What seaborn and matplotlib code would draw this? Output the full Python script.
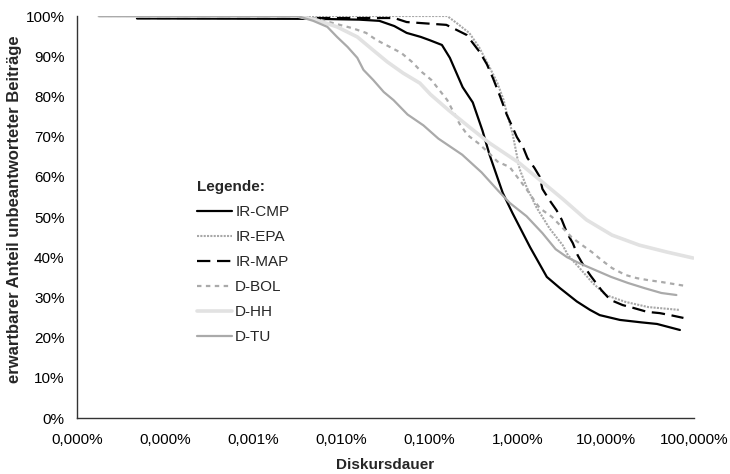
import matplotlib
matplotlib.use('Agg')
import matplotlib.pyplot as plt
from matplotlib.ticker import FuncFormatter, FixedLocator, NullLocator, PercentFormatter
import seaborn as sns
import pandas as pd
import numpy as np

# Diskursdauer als log10 des Prozentwerts, Anteil in %
cmp_x = [-4.32, -2.3, -1.8, -1.57, -1.4, -1.26, -1.1, -1.0, -0.86, -0.77, -0.625, -0.51, -0.4, -0.32,
         -0.17, -0.06, 0.14, 0.33, 0.48, 0.67, 0.82, 0.93, 1.16, 1.4, 1.58, 1.84]
cmp_y = [99.4, 99.3, 99.1, 98.8, 97.5, 95.8, 94.8, 94.0, 92.8, 89.6, 82.3, 78.5, 71.5, 65.5,
         56.0, 51.0, 42.5, 35.1, 32.3, 29.0, 26.9, 25.6, 24.4, 23.8, 23.4, 21.9]

epa_x = [-4.3, -0.8, -0.69, -0.55, -0.44, -0.32, -0.23, -0.16, -0.125, -0.06, 0.02, 0.10, 0.21,
         0.36, 0.51, 0.57, 0.69, 0.85, 1.0, 1.22, 1.48, 1.83]
epa_y = [100, 100, 98.2, 95.8, 92.3, 87.3, 83.3, 79.1, 75.9, 70.9, 62.0, 57.5, 52.5,
         47.2, 43.0, 40.5, 37.6, 33.6, 30.6, 28.9, 27.6, 26.9]

map_x = [-4.32, -1.4, -1.26, -0.81, -0.69, -0.58, -0.51, -0.43, -0.35, -0.28, -0.2, -0.125, -0.06,
         -0.01, 0.06, 0.11, 0.19, 0.25, 0.28, 0.36, 0.44, 0.5, 0.56, 0.625, 0.68, 0.75, 0.83,
         0.95, 1.05, 1.19, 1.31, 1.47, 1.61, 1.73, 1.88]
map_y = [99.5, 99.5, 98.5, 97.8, 96.5, 95.3, 93.3, 91.0, 88.0, 84.5, 80.0, 75.5, 72.4,
         69.9, 67.4, 64.7, 62.2, 60.0, 57.0, 54.2, 51.7, 49.3, 46.0, 43.5, 40.5, 37.8, 35.3,
         31.8, 29.4, 28.1, 27.4, 26.4, 26.1, 25.6, 24.9]

bol_x = [-4.75, -2.4, -2.14, -1.88, -1.72, -1.6, -1.45, -1.32, -1.2, -1.09, -0.98, -0.89, -0.8,
         -0.66, -0.57, -0.45, -0.34, -0.23, -0.09, 0.08, 0.25, 0.39, 0.5, 0.61, 0.70, 0.84, 0.95,
         1.07, 1.22, 1.35, 1.48, 1.64, 1.78, 1.92]
bol_y = [100, 100, 98.5, 97.0, 95.8, 94.0, 92.3, 90.8, 88.6, 86.1, 84.1, 81.6, 79.1,
         73.2, 70.4, 68.4, 66.2, 63.8, 62.4, 57.5, 52.2, 50.0, 47.5, 45.0, 43.5, 41.3, 39.3,
         37.3, 35.6, 34.8, 34.3, 33.8, 33.3, 32.8]

hh_x = [-4.75, -2.5, -2.28, -2.05, -1.82, -1.64, -1.48, -1.3, -1.11, -0.99, -0.78, -0.55, -0.32,
        0.02, 0.28, 0.51, 0.78, 1.07, 1.38, 1.69, 1.99]
hh_y = [100, 100, 99.0, 97.3, 94.8, 91.5, 88.6, 85.8, 83.3, 80.5, 76.5, 72.4, 68.4,
        63.4, 58.7, 54.5, 49.3, 45.5, 43.0, 41.3, 39.8]

tu_x = [-4.75, -2.5, -2.32, -2.16, -2.05, -1.93, -1.82, -1.75, -1.64, -1.52, -1.41, -1.25, -1.07,
        -0.9, -0.63, -0.41, -0.22, -0.09, 0.1, 0.28, 0.43, 0.56, 0.69, 0.88, 1.06, 1.25, 1.44,
        1.63, 1.8]
tu_y = [100, 100, 98.8, 97.3, 94.8, 92.3, 89.6, 86.6, 84.1, 81.1, 79.1, 75.5, 72.8,
        69.5, 65.5, 61.1, 56.5, 53.5, 50.2, 46.0, 42.0, 40.0, 38.6, 36.8, 35.1, 33.6, 32.3,
        31.1, 30.6]

x_ticks = [1e-5, 1e-4, 1e-3, 1e-2, 1e-1, 1, 10, 100]

sns.set_style('white')
plt.rcParams['font.family'] = ['Liberation Sans', 'DejaVu Sans']

fig = plt.figure(figsize=(7.3, 4.74), dpi=100)
ax = fig.add_axes([0.1055, 0.1181, 0.8452, 0.8481])

serien = [
    ('IR-CMP', cmp_x, cmp_y, dict(color='black', lw=1.6, linestyle='-')),
    ('IR-EPA', epa_x, epa_y, dict(color='#a8a8a8', lw=1.5, linestyle=(0, (1, 0.6)))),
    ('IR-MAP', map_x, map_y, dict(color='black', lw=1.6, linestyle=(0, (6, 3)))),
    ('D-BOL', bol_x, bol_y, dict(color='#aaaaaa', lw=1.6, linestyle=(0, (2, 2)))),
    ('D-HH', hh_x, hh_y, dict(color='#e2e2e2', lw=2.6, linestyle='-')),
    ('D-TU', tu_x, tu_y, dict(color='#aaaaaa', lw=1.6, linestyle='-')),
]

for name, xs, ys, stil in serien:
    df = pd.DataFrame({'dauer': np.power(10.0, xs), 'anteil': np.array(ys) / 100})
    sns.lineplot(data=df, x='dauer', y='anteil', ax=ax, label=name, estimator=None,
                 sort=False, **stil)

ax.set_xscale('log')
ax.set_xlim(1e-5, 100)
ax.set_ylim(0, 1)
ax.xaxis.set_major_locator(FixedLocator(x_ticks))
ax.xaxis.set_minor_locator(NullLocator())
ax.xaxis.set_major_formatter(FuncFormatter(lambda v, p: f'{v:.3f}%'.replace('.', ',')))
ax.set_yticks(np.arange(0, 1.01, 0.1))
ax.yaxis.set_major_formatter(PercentFormatter(1.0, decimals=0))

for s in ['top', 'right']:
    ax.spines[s].set_visible(False)
for s in ['left', 'bottom']:
    ax.spines[s].set_color('#333333')
    ax.spines[s].set_linewidth(1.0)
ax.tick_params(axis='both', direction='out', length=5, width=1, color='#333333',
               labelsize=11, labelcolor='black', pad=4)
ax.tick_params(axis='x', pad=6)

ax.set_xlabel('Diskursdauer', fontsize=11, fontweight='bold', labelpad=8)
ax.set_ylabel('erwartbarer Anteil unbeantworteter Beiträge', fontsize=12, fontweight='bold')
ax.yaxis.set_label_coords(-0.089, 0.52)

leg = ax.legend(loc='upper left', bbox_to_anchor=(197 / 730, 1 - 180 / 474),
                bbox_transform=fig.transFigure, frameon=False, fontsize=11,
                title='Legende:', title_fontproperties={'weight': 'bold', 'size': 11},
                alignment='left', borderpad=0, borderaxespad=0, handlelength=2.3,
                handletextpad=0.2, labelspacing=0.72)

fig.savefig('out.png', dpi=100)
